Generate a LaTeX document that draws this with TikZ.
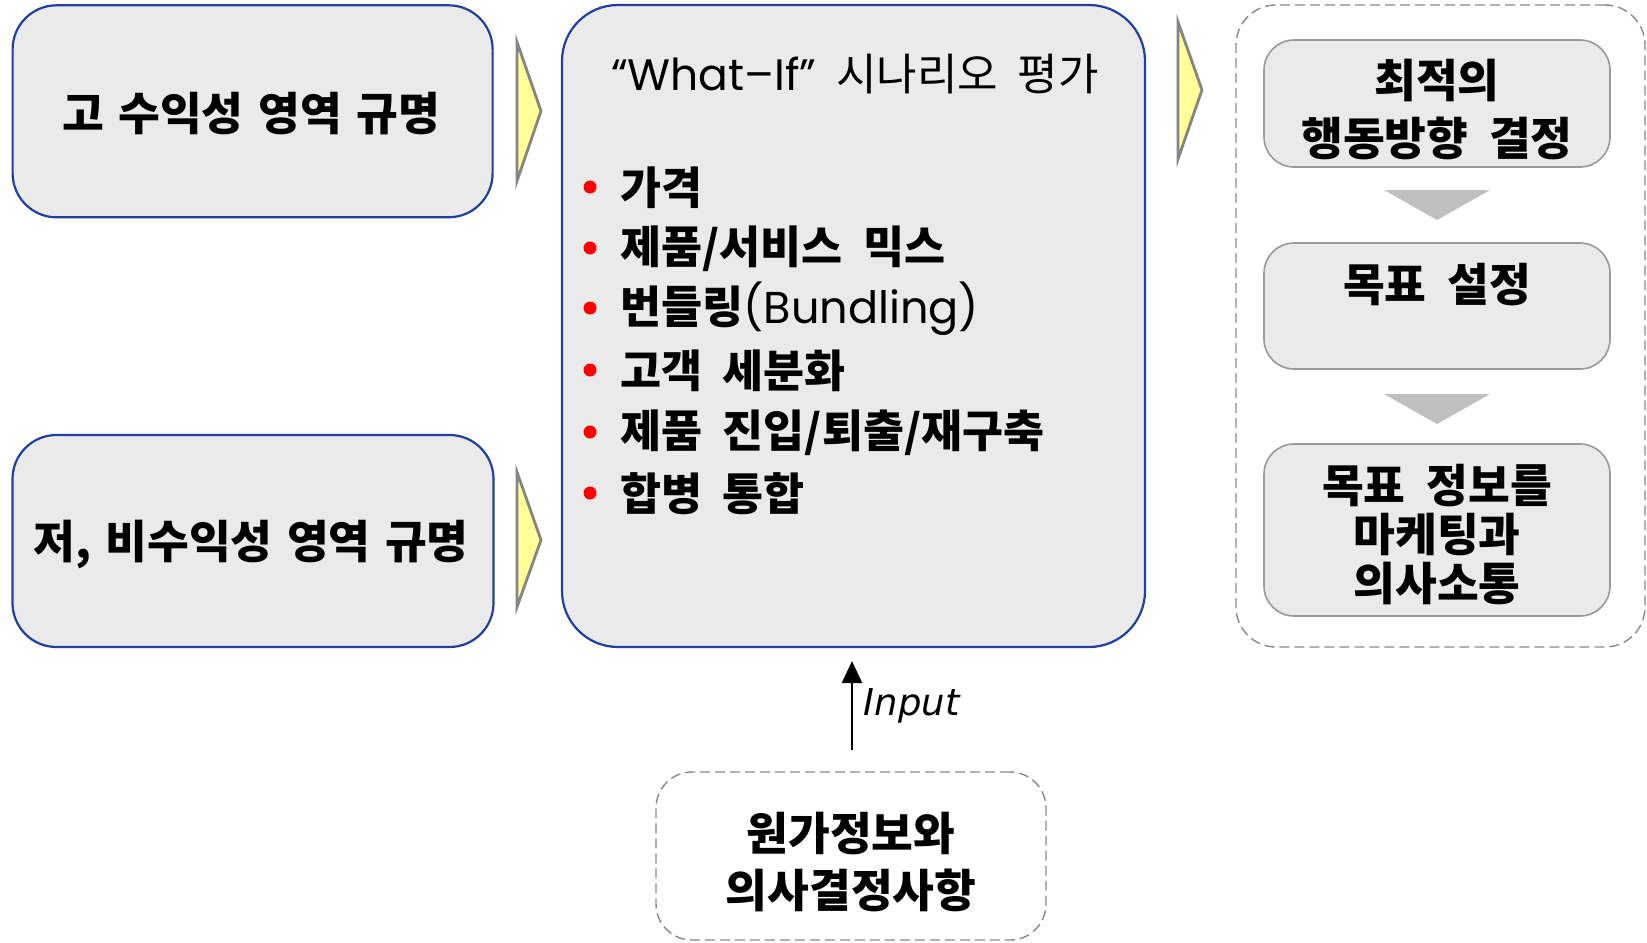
\documentclass[tikz,border=0pt]{standalone}
\usepackage{fontspec}
\setmainfont{Noto Sans CJK KR}[WordSpace=2]
\newfontfamily\kl{Noto Sans CJK KR}[WordSpace=1.4]
\newfontfamily\lat{Poppins}
\newfontfamily\inp{DejaVu Sans}
\usetikzlibrary{arrows.meta}
\definecolor{boxfill}{HTML}{EAEAEA}
\definecolor{boxblue}{HTML}{1F40A0}
\definecolor{rgray}{HTML}{999999}
\definecolor{trigray}{HTML}{BFBFBF}
\definecolor{yel}{HTML}{FFFF99}
\definecolor{ygray}{HTML}{858585}
\definecolor{dgray}{HTML}{888888}
\begin{document}
\begin{tikzpicture}[x=0.5pt,y=-0.5pt,
  bluebox/.style={draw=boxblue, fill=boxfill, line width=1.1pt, rounded corners=22pt, inner sep=0pt},
  graybox/.style={draw=rgray, fill=boxfill, line width=0.8pt, rounded corners=15pt, inner sep=0pt},
  dashbox/.style={draw=dgray, dashed, dash pattern=on 5pt off 2.5pt, line width=0.7pt, rounded corners=18pt, inner sep=0pt},
  txt/.style={font=\bfseries\fontsize{22.7}{27}\selectfont, align=center, inner sep=0pt},
  lefttxt/.style={font=\kl\bfseries\fontsize{22.7}{27}\selectfont, inner sep=0pt},
  titletxt/.style={font=\fontsize{22}{27}\selectfont, inner sep=0pt},
  item/.style={font=\bfseries\fontsize{22.3}{27}\selectfont, anchor=west, inner sep=0pt},
  dot/.style={circle, fill=red, inner sep=0pt, minimum size=6.5pt},
  yarrow/.style={fill=yel, draw=ygray, line width=1.4pt, line join=miter},
  garrow/.style={fill=trigray},
]
\useasboundingbox (0,0) rectangle (1647,942);

% left boxes
\node[bluebox, minimum width=240pt, minimum height=106pt] (L1) at (252.6,111.3) {};
\node[lefttxt] (L1t) at (251,114) {고 수익성 영역 규명};
\node[bluebox, minimum width=240.5pt, minimum height=106pt] (L2) at (253,541) {};
\node[lefttxt] (L2t) at (251,544) {저, 비수익성 영역 규명};

% middle box
\node[bluebox, rounded corners=28pt, minimum width=291.5pt, minimum height=321pt] (M) at (853.5,326) {};
\node[titletxt] (Mt) at (855,74) {{\lat “What–If”} 시나리오 평가};
\foreach \yy/\tt [count=\i] in {187/{가격}, 248/{제품/서비스 믹스}, 308/{번들링{\lat\mdseries(Bundling)}}, 370/{고객 세분화}, 432/{제품 진입/퇴출/재구축}, 493/{합병 통합}}{
  \node[dot] (d\i) at (590,\yy) {};
  \node[item] (i\i) at (620,\yy+1) {\tt};
}

% yellow chevrons
\filldraw[yarrow] (517,42) -- (541,111) -- (517,181) -- cycle;
\filldraw[yarrow] (517,472) -- (541,540) -- (517,607) -- cycle;
\filldraw[yarrow] (1178,22) -- (1202,90) -- (1178,159) -- cycle;

% right group
\node[dashbox, rounded corners=20pt, minimum width=204.5pt, minimum height=321pt] (G) at (1440.5,326) {};
\node[graybox, minimum width=173pt, minimum height=63.5pt] (R1) at (1437,103.5) {};
\node[txt] (R1a) at (1437,81) {최적의};
\node[txt] (R1b) at (1437,138) {행동방향 결정};
\node[graybox, minimum width=173pt, minimum height=63pt] (R2) at (1437,306) {};
\node[txt] (R2t) at (1437,285) {목표 설정};
\node[graybox, minimum width=173pt, minimum height=86pt] (R3) at (1437,530) {};
\node[txt] (R3t) at (1437,535) {목표 정보를\\[-2.5pt]마케팅과\\[-2.5pt]의사소통};
\fill[garrow] (1384,190) -- (1490,190) -- (1437,220) -- cycle;
\fill[garrow] (1384,394) -- (1490,394) -- (1437,424) -- cycle;

% bottom input
\node[dashbox, minimum width=195pt, minimum height=84pt] (B) at (851,856) {};
\node[txt] (Bt) at (851,862) {원가정보와\\[1.5pt]의사결정사항};
\coordinate (As) at (852,750);
\coordinate (Ae) at (852,661);
\draw[-{Triangle[length=11pt,width=10pt]}, line width=1.1pt] (As) -- (Ae) node[pos=0.5, right=2pt, font=\inp\itshape\fontsize{18.5}{20}\selectfont] (inlab) {Input};
\end{tikzpicture}
\end{document}
